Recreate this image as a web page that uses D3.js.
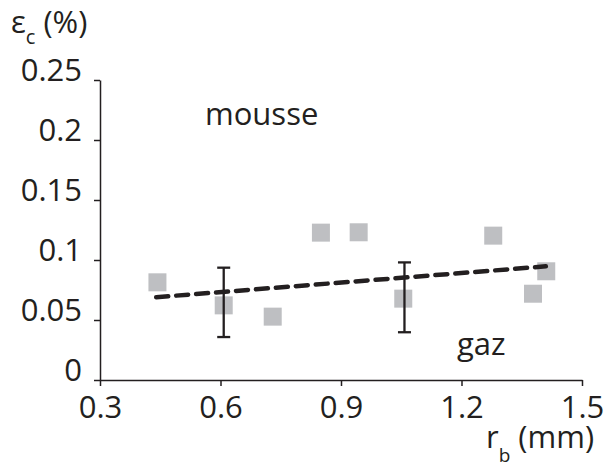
<!DOCTYPE html>
<html>
<head>
<meta charset="utf-8">
<script src="https://cdn.jsdelivr.net/npm/d3@7"></script>
<style>
  body { margin: 0; background: #fff; }
  svg { display: block; }
  text { font-family: "Open Sans", "DejaVu Sans", sans-serif; fill: #231f20; }
</style>
</head>
<body>
<script>
// Data
const rb = [0.443, 0.608, 0.730, 0.850, 0.944, 1.055, 1.279, 1.378, 1.411];
const epsC = [0.0814, 0.0622, 0.0528, 0.1228, 0.1231, 0.0678, 0.1203, 0.0719, 0.0906];
const errX = [0.608, 1.058];
const errLow = [0.0358, 0.0398];
const errHigh = [0.0936, 0.0980];
const trendX = [0.44, 1.41];
const trendY = [0.069, 0.0947];
const xTicks = [0.3, 0.6, 0.9, 1.2, 1.5];
const yTicks = [0, 0.05, 0.1, 0.15, 0.2, 0.25];
const yTickLabels = ["0", "0.05", "0.1", "0.15", "0.2", "0.25"];
const xTickLabels = ["0.3", "0.6", "0.9", "1.2", "1.5"];

const W = 616, H = 468;
const svg = d3.select("body").append("svg").attr("width", W).attr("height", H);

const x = d3.scaleLinear().domain([0.3, 1.5]).range([100, 582]);
const y = d3.scaleLinear().domain([0, 0.25]).range([380, 80]);

const ink = "#231f20";
const fs = 31;

// Y axis
const gy = svg.append("g").attr("transform", "translate(100,0)")
  .call(d3.axisLeft(y).tickValues(yTicks).tickFormat((d, i) => yTickLabels[i]).tickSize(6).tickSizeOuter(0).tickPadding(12));
gy.select(".domain").attr("stroke", ink).attr("stroke-width", 1.5);
gy.selectAll(".tick line").attr("stroke", ink).attr("stroke-width", 1.5);
gy.selectAll(".tick text").attr("dy", 0).attr("font-size", fs).attr("fill", ink)
  .attr("font-family", "'Open Sans', sans-serif");

// X axis
const gx = svg.append("g").attr("transform", "translate(0,380)")
  .call(d3.axisBottom(x).tickValues(xTicks).tickFormat((d, i) => xTickLabels[i]).tickSize(6).tickSizeOuter(0));
gx.select(".domain").attr("stroke", ink).attr("stroke-width", 1.5);
gx.selectAll(".tick line").attr("stroke", ink).attr("stroke-width", 1.5);
gx.selectAll(".tick text").attr("y", 38).attr("dy", 0).attr("font-size", fs).attr("fill", ink)
  .attr("font-family", "'Open Sans', sans-serif");

// Points
const sz = 18;
svg.append("g").selectAll("rect").data(rb).join("rect")
  .attr("x", (d) => x(d) - sz / 2)
  .attr("y", (d, i) => y(epsC[i]) - sz / 2)
  .attr("width", sz).attr("height", sz)
  .attr("fill", "#bebfc2");

// Trend line
svg.append("line")
  .attr("x1", x(trendX[0])).attr("y1", y(trendY[0]))
  .attr("x2", x(trendX[1])).attr("y2", y(trendY[1]))
  .attr("stroke", ink).attr("stroke-width", 4.5)
  .attr("stroke-dasharray", "12,8").attr("stroke-linecap", "round");

// Error bars
const eb = svg.append("g").attr("stroke", ink).attr("stroke-width", 2.3);
errX.forEach((ex, i) => {
  const cx = x(ex);
  eb.append("line").attr("x1", cx).attr("x2", cx).attr("y1", y(errLow[i])).attr("y2", y(errHigh[i]));
  eb.append("line").attr("x1", cx - 6.5).attr("x2", cx + 6.5).attr("y1", y(errLow[i])).attr("y2", y(errLow[i]));
  eb.append("line").attr("x1", cx - 6.5).attr("x2", cx + 6.5).attr("y1", y(errHigh[i])).attr("y2", y(errHigh[i]));
});

// Annotations
svg.append("text").attr("x", 205).attr("y", 125).attr("font-size", fs).text("mousse");
svg.append("text").attr("x", 457).attr("y", 355).attr("font-size", fs).text("gaz");

// Axis titles
const yt = svg.append("text").attr("x", 11).attr("y", 33).attr("font-size", fs);
yt.append("tspan").text("ε");
yt.append("tspan").attr("font-size", 20).attr("dy", 11).text("c");
yt.append("tspan").attr("dy", -11).text(" (%)");

const xt = svg.append("text").attr("x", 486).attr("y", 448).attr("font-size", fs);
xt.append("tspan").text("r");
xt.append("tspan").attr("font-size", 19).attr("dy", 14).text("b");
xt.append("tspan").attr("dy", -14).text(" (mm)");
</script>
</body>
</html>
